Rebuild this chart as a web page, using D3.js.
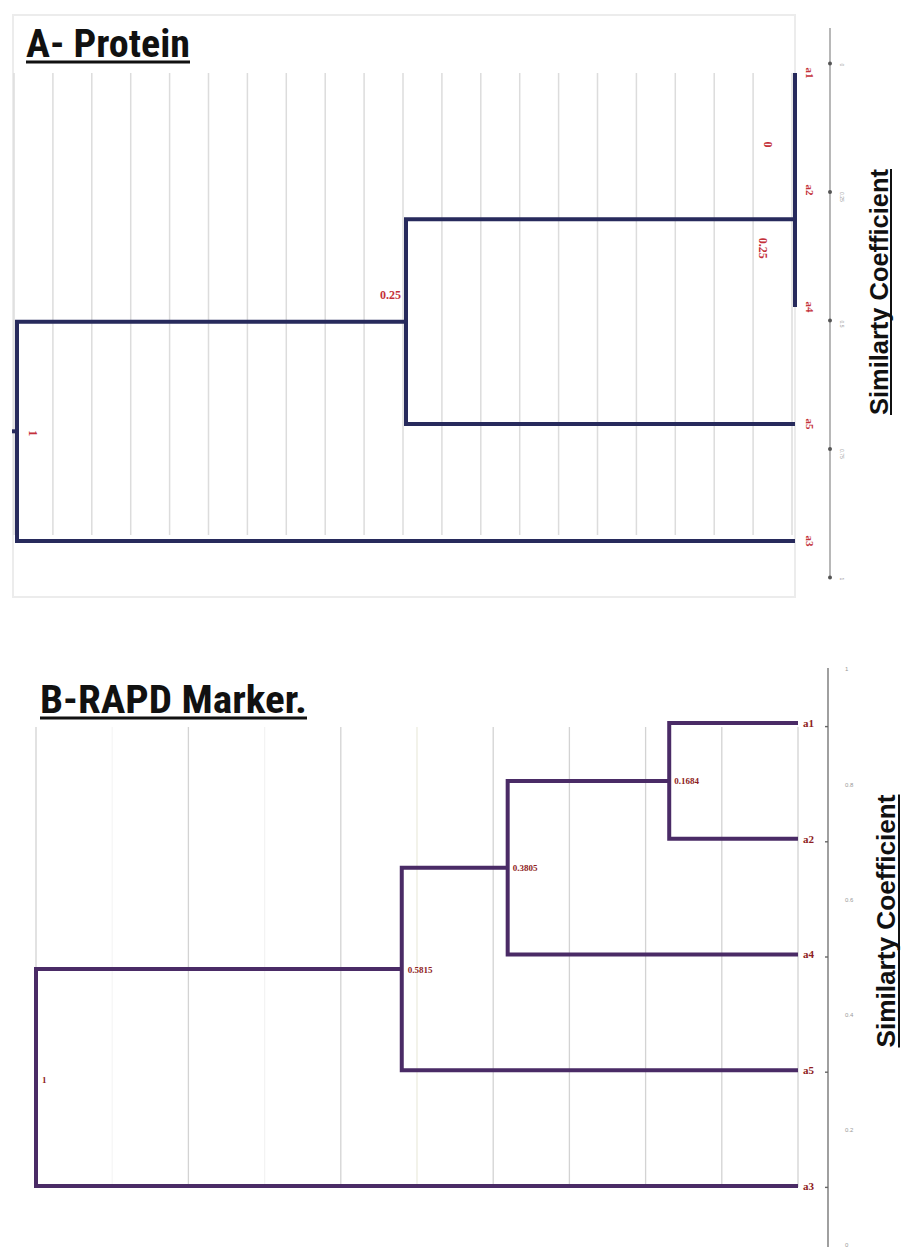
<!DOCTYPE html>
<html>
<head>
<meta charset="utf-8">
<script src="https://cdn.jsdelivr.net/npm/d3@7"></script>
<style>
  body { margin: 0; background: #fff; }
  svg { display: block; }
</style>
</head>
<body>
<div id="chart"></div>
<script>
// leaves, top to bottom
const leavesA = ["a1", "a2", "a4", "a5", "a3"];
const leavesB = ["a1", "a2", "a4", "a5", "a3"];

// merges: [left child, right child, height]; nodes are named n1, n2, ...
const mergesA = [["a1", "a2", 0], ["n1", "a4", 0], ["n2", "a5", 0.5], ["n3", "a3", 1]];
const mergesB = [["a1", "a2", 0.169], ["n1", "a4", 0.381], ["n2", "a5", 0.52], ["n3", "a3", 1]];

const nodeLabelsA = ["0", "0.25", "0.25", "1"];
const nodeLabelsB = ["0.1684", "0.3805", "0.5815", "1"];

const axisLabelsA = ["0", "0.25", "0.5", "0.75", "1"];
const axisLabelsB = ["1", "0.8", "0.6", "0.4", "0.2", "0"];

const W = 902, H = 1247;
const svg = d3.select("#chart").append("svg")
    .attr("width", W)
    .attr("height", H);

function drawTree(g, leaves, merges, labels, x, y, o) {
    const pos = {};
    leaves.forEach(n => { pos[n] = { x: x(0), y: y(n) }; });

    merges.forEach((m, i) => {
        const a = pos[m[0]], b = pos[m[1]];
        const nx = x(m[2]);
        const node = { x: nx, y: (a.y + b.y) / 2 };
        pos["n" + (i + 1)] = node;

        const p = d3.path();
        p.moveTo(a.x, a.y);
        p.lineTo(nx, a.y);
        p.lineTo(nx, b.y);
        p.lineTo(b.x, b.y);
        g.append("path")
            .attr("d", p.toString())
            .attr("fill", "none")
            .attr("stroke", o.color)
            .attr("stroke-width", o.width)
            .attr("stroke-linejoin", "miter");

        const lo = o.labelOffsets[i];
        const t = g.append("text")
            .attr("x", nx + lo[0])
            .attr("y", node.y + lo[1])
            .attr("fill", o.labelColor)
            .attr("font-family", "'Liberation Serif', 'DejaVu Serif', serif")
            .attr("font-weight", "bold")
            .attr("font-size", o.labelSize)
            .attr("text-anchor", lo[2] ? "middle" : "start")
            .attr("dy", "0.35em")
            .text(labels[i]);
        if (lo[2]) t.attr("transform", `rotate(90,${nx + lo[0]},${node.y + lo[1]})`);
    });

    // root stub
    const root = pos["n" + merges.length];
    if (o.stub) {
        g.append("line")
            .attr("x1", root.x - o.stub).attr("x2", root.x)
            .attr("y1", root.y).attr("y2", root.y)
            .attr("stroke", o.color).attr("stroke-width", o.width);
    }

    // leaf names
    leaves.forEach(n => {
        const lx = x(0) + o.leafDx, ly = y(n);
        const t = g.append("text")
            .attr("x", lx)
            .attr("y", ly)
            .attr("dy", "0.35em")
            .attr("fill", o.labelColor)
            .attr("font-family", "'Liberation Serif', 'DejaVu Serif', serif")
            .attr("font-weight", "bold")
            .attr("font-size", o.leafSize)
            .attr("text-anchor", o.leafRotate ? "middle" : "start")
            .text(n);
        if (o.leafRotate) t.attr("transform", `rotate(90,${lx},${ly})`);
    });
}

// rotated axis title, font size fitted to the wanted length
function sideTitle(text, cx, cy, len, ulx) {
    const g = svg.append("g")
        .attr("transform", `translate(${cx},${cy}) rotate(-90)`);
    const t = g.append("text")
        .attr("x", 0).attr("y", 0)
        .attr("text-anchor", "middle")
        .attr("dy", "0.35em")
        .attr("font-family", "'Liberation Sans', Arial, sans-serif")
        .attr("font-weight", "bold")
        .attr("font-size", 20)
        .attr("fill", "#111")
        .text(text);
    const w = t.node().getComputedTextLength();
    t.attr("font-size", 20 * len / w);
    svg.append("line")
        .attr("x1", ulx).attr("x2", ulx)
        .attr("y1", cy - len / 2).attr("y2", cy + len / 2)
        .attr("stroke", "#111").attr("stroke-width", 2);
}

function title(text, x0, base, len, size) {
    svg.append("text")
        .attr("x", x0)
        .attr("y", base)
        .attr("font-family", "'Liberation Sans Narrow', 'Roboto Condensed', Roboto, Arial, sans-serif")
        .attr("font-weight", "bold")
        .attr("font-size", size)
        .attr("fill", "#111")
        .attr("textLength", len)
        .attr("lengthAdjust", "spacingAndGlyphs")
        .text(text);
    svg.append("line")
        .attr("x1", x0).attr("x2", x0 + len)
        .attr("y1", base + 5).attr("y2", base + 5)
        .attr("stroke", "#111").attr("stroke-width", 3);
}

// ---------- Panel A ----------
const xA = d3.scaleLinear().domain([1, 0]).range([17, 795]);
const yA = d3.scalePoint().domain(leavesA).range([73, 541]);

svg.append("rect")
    .attr("x", 13).attr("y", 15)
    .attr("width", 782).attr("height", 582)
    .attr("fill", "#fff")
    .attr("stroke", "#ececec")
    .attr("stroke-width", 2);

const gA = svg.append("g");
gA.selectAll("line.grid")
    .data(d3.range(0, 1.0001, 0.05))
    .join("line")
    .attr("class", "grid")
    .attr("x1", d => xA(d) - 3).attr("x2", d => xA(d) - 3)
    .attr("y1", 73).attr("y2", 535)
    .attr("stroke", "#dcdcdc")
    .attr("stroke-width", 1.5);

drawTree(gA, leavesA, mergesA, nodeLabelsA, xA, yA, {
    color: "#272a5c", width: 4, labelColor: "#c4313a",
    labelSize: 12, leafSize: 11, leafDx: 15, leafRotate: true, stub: 5,
    labelOffsets: [[-27, 13, true], [-32, 29, true], [-26, -27, false], [16, 2, true]]
});

title("A- Protein", 26, 57, 164, 38);

// right axis A
const aA = d3.scalePoint().domain(axisLabelsA).range([63, 577]);
svg.append("line")
    .attr("x1", 830).attr("x2", 830).attr("y1", 28).attr("y2", 578)
    .attr("stroke", "#888").attr("stroke-width", 1.2);
svg.append("g")
    .attr("transform", "translate(830,0)")
    .call(d3.axisRight(aA).tickSize(0).tickPadding(12))
    .call(g => g.select(".domain").remove())
    .call(g => g.selectAll("text")
        .attr("font-size", 5).attr("fill", "#999")
        .attr("transform", function () {
            return `rotate(90,${this.getAttribute("x") || 12},0)`;
        }))
    .call(g => g.selectAll(".tick").append("circle")
        .attr("r", 2).attr("fill", "#555"));

sideTitle("Similarty Coefficient", 879, 292, 246, 891);

// ---------- Panel B ----------
const xB = d3.scaleLinear().domain([1, 0]).range([36, 798]);
const yB = d3.scalePoint().domain(leavesB).range([723, 1186]);

const gB = svg.append("g");
const faintB = { 1: "#f6f6f6", 3: "#f3f3f3", 5: "#ececdf" };
gB.selectAll("line.grid")
    .data(d3.range(0, 11))
    .join("line")
    .attr("class", "grid")
    .attr("x1", i => xB(1 - i / 10)).attr("x2", i => xB(1 - i / 10))
    .attr("y1", 727).attr("y2", 1187)
    .attr("stroke", i => faintB[i] || "#d3d3d3")
    .attr("stroke-width", 1.3);

drawTree(gB, leavesB, mergesB, nodeLabelsB, xB, yB, {
    color: "#4a2b66", width: 4, labelColor: "#8e1d22",
    labelSize: 9, leafSize: 11, leafDx: 5, leafRotate: false, stub: 0,
    labelOffsets: [[5, 0, false], [5, 0, false], [6, 1, false], [6, 2, false]]
});

title("B-RAPD Marker.", 40, 713, 267, 38);

// right axis B
const aB = d3.scalePoint().domain(axisLabelsB).range([669, 1245]);
svg.append("line")
    .attr("x1", 828).attr("x2", 828).attr("y1", 668).attr("y2", 1247)
    .attr("stroke", "#777").attr("stroke-width", 1.4);
svg.append("g")
    .attr("transform", "translate(828,0)")
    .call(d3.axisRight(aB).tickSize(0).tickPadding(17))
    .call(g => g.select(".domain").remove())
    .call(g => g.selectAll("text").attr("font-size", 6).attr("fill", "#999"));
// minor ticks half way between labels
svg.append("g").selectAll("line")
    .data(axisLabelsB.slice(0, -1))
    .join("line")
    .attr("x1", 825).attr("x2", 828)
    .attr("y1", d => aB(d) + aB.step() / 2)
    .attr("y2", d => aB(d) + aB.step() / 2)
    .attr("stroke", "#666").attr("stroke-width", 1.4);

sideTitle("Similarty Coefficient", 886, 921, 253, 899);
</script>
</body>
</html>
